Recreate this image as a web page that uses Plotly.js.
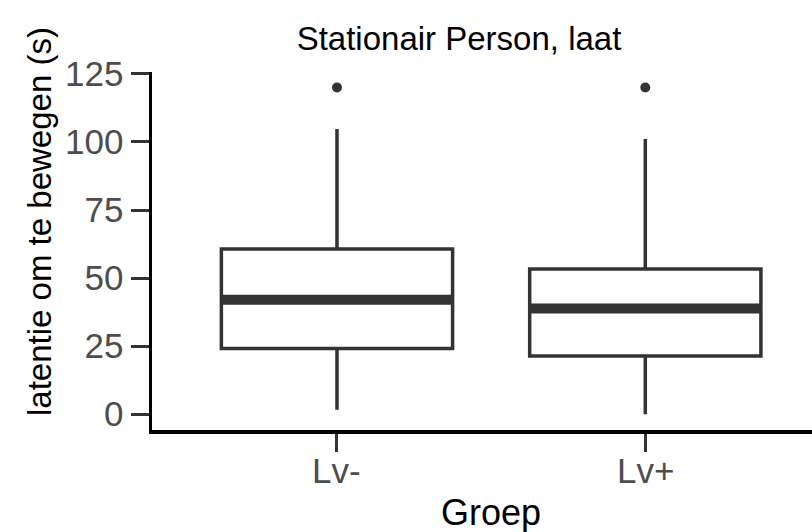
<!DOCTYPE html>
<html>
<head>
<meta charset="utf-8">
<script src="https://cdn.plot.ly/plotly-3.0.1.min.js"></script>
<style>html,body{margin:0;padding:0;background:#fff;overflow:hidden}</style>
</head>
<body>
<div id="chart" style="width:812px;height:532px"></div>
<script>
// Data
const categories = ['Lv-', 'Lv+'];
const lowerWhisker = [1.6, 0];
const q1Values = [24.1, 21.4];
const medianValues = [42.0, 38.8];
const q3Values = [60.7, 53.3];
const upperWhisker = [104.8, 101.1];
const outlierGroup = [0, 1];
const outlierValues = [120, 120];
const yTicks = [0, 25, 50, 75, 100, 125];

const positions = categories.map((_, i) => i);
const boxWidth = 0.75;
const ink = '#333333';
const font = 'Liberation Sans, Arial, sans-serif';

// thick median segments built from the median values
const medX = [], medY = [];
positions.forEach((p, i) => {
  medX.push(p - boxWidth / 2, p + boxWidth / 2, null);
  medY.push(medianValues[i], medianValues[i], null);
});

const traces = [
  {
    type: 'box',
    x: positions,
    q1: q1Values,
    median: medianValues,
    q3: q3Values,
    lowerfence: lowerWhisker,
    upperfence: upperWhisker,
    width: boxWidth,
    whiskerwidth: 0,
    boxpoints: false,
    fillcolor: '#ffffff',
    line: {color: ink, width: 3.5},
    hoverinfo: 'skip',
    showlegend: false
  },
  {
    type: 'scatter',
    mode: 'lines',
    x: medX,
    y: medY,
    line: {color: ink, width: 10},
    hoverinfo: 'skip',
    showlegend: false
  },
  {
    type: 'scatter',
    mode: 'markers',
    x: outlierGroup,
    y: outlierValues,
    marker: {color: ink, size: 10},
    hoverinfo: 'skip',
    showlegend: false
  }
];

// category labels placed under their ticks
const catLabels = categories.map((c, i) => ({
  text: c,
  xref: 'x', yref: 'paper',
  x: positions[i], y: (430 - 470) / 358,
  xanchor: 'center', yanchor: 'middle',
  showarrow: false,
  font: {family: font, size: 35, color: '#4D4D4D'}
}));

const layout = {
  width: 812,
  height: 532,
  margin: {l: 152, r: 0, t: 72, b: 102, pad: 0},
  paper_bgcolor: '#ffffff',
  plot_bgcolor: '#ffffff',
  showlegend: false,
  title: {
    text: 'Stationair Person, laat',
    font: {family: font, size: 33, color: '#000000'},
    xref: 'container', x: 459 / 812, xanchor: 'center',
    yref: 'container', y: 1 - 38 / 532, yanchor: 'middle'
  },
  xaxis: {
    type: 'linear',
    range: [-0.6, 1.5407],
    tickvals: positions,
    ticktext: categories,
    showticklabels: false,
    showgrid: false,
    zeroline: false,
    showline: true,
    linecolor: '#000000',
    linewidth: 3.5,
    ticks: 'outside',
    ticklen: 18,
    tickwidth: 3,
    tickcolor: ink,
    fixedrange: true
  },
  yaxis: {
    range: [-5.8, 125.7],
    tickvals: yTicks,
    showgrid: false,
    zeroline: false,
    showline: true,
    linecolor: '#000000',
    linewidth: 3.5,
    ticks: 'outside',
    ticklen: 18,
    tickwidth: 3,
    tickcolor: ink,
    tickfont: {family: font, size: 35, color: '#4D4D4D'},
    fixedrange: true
  },
  annotations: catLabels.concat([
    {
      text: 'Groep',
      xref: 'paper', yref: 'paper',
      x: (491 - 152) / 660, y: (430 - 512) / 358,
      xanchor: 'center', yanchor: 'middle',
      showarrow: false,
      font: {family: font, size: 36, color: '#000000'}
    },
    {
      text: 'latentie om te bewegen (s)',
      xref: 'paper', yref: 'paper',
      x: (40 - 152) / 660, y: (430 - 222) / 358,
      xanchor: 'center', yanchor: 'middle',
      textangle: -90,
      showarrow: false,
      font: {family: font, size: 33, color: '#000000'}
    }
  ])
};

Plotly.newPlot('chart', traces, layout, {staticPlot: true, displayModeBar: false});
</script>
</body>
</html>
